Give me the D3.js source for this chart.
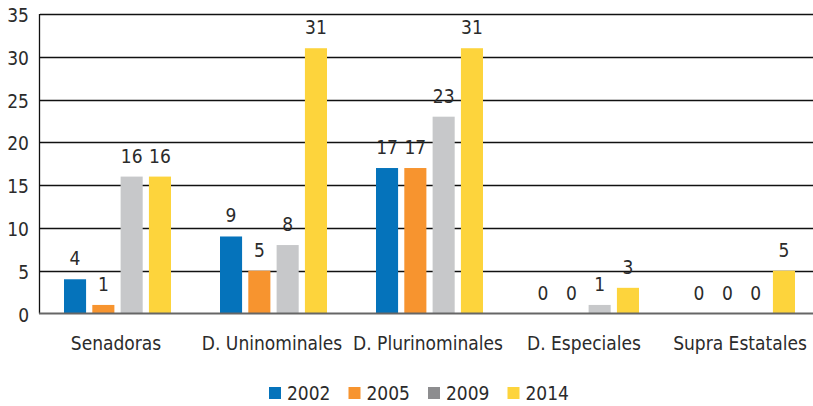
<!DOCTYPE html>
<html lang="es">
  <head>
    <meta charset="utf-8">
    <title>Candidatas por tipo</title>
    <script src="https://cdn.jsdelivr.net/npm/d3@7"></script>
    <style>
      body { margin: 0; background: #fff; }
      text { font-family: 'DejaVu Sans Condensed', 'DejaVu Sans', sans-serif; font-stretch: condensed; fill: #2b2b2b; }
    </style>
  </head>
  <body>
    <div id='chart'></div>

    <script type='text/javascript'>
      // data
      let categories = ['Senadoras', 'D. Uninominales', 'D. Plurinominales', 'D. Especiales', 'Supra Estatales'];
      let years = ['2002', '2005', '2009', '2014'];
      let v2002 = [4, 9, 17, 0, 0];
      let v2005 = [1, 5, 17, 0, 0];
      let v2009 = [16, 8, 23, 1, 0];
      let v2014 = [16, 31, 31, 3, 5];
      let yTicks = [0, 5, 10, 15, 20, 25, 30, 35];

      let series = [v2002, v2005, v2009, v2014];
      let barColors = ['#0573bb', '#f7942f', '#c7c8ca', '#fdd43c'];
      let keyColors = ['#0573bb', '#f7942f', '#8d8d8f', '#fdd43c'];

      let width = 813, height = 406;
      let margin = {top: 14, left: 40, bottom: 313.5};
      let fs = 19;

      let svg = d3.select('#chart').append('svg')
        .attr('width', width)
        .attr('height', height)

      let x = d3.scaleBand()
        .domain(categories)
        .range([margin.left, margin.left + 156 * 5])

      let xInner = d3.scaleBand()
        .domain(years)
        .range([24, 131])
        .paddingInner(0.22)

      let y = d3.scaleLinear()
        .domain([0, 35])
        .range([margin.bottom, margin.top])

      // gridlines
      svg.append('g')
        .selectAll('line')
        .data(yTicks.filter((d) => d > 0))
        .enter()
        .append('line')
        .attr('x1', margin.left)
        .attr('x2', width)
        .attr('y1', (d) => Math.round(y(d)) + 0.5)
        .attr('y2', (d) => Math.round(y(d)) + 0.5)
        .attr('stroke', '#111')
        .attr('stroke-width', 1.3)

      // y tick labels
      svg.append('g')
        .selectAll('text')
        .data(yTicks)
        .enter()
        .append('text')
        .attr('x', 29)
        .attr('y', (d) => y(d) + 8)
        .attr('text-anchor', 'end')
        .attr('font-size', fs)
        .text((d) => d)

      // bars
      let rows = [];
      categories.forEach((c, i) => {
        series.forEach((s, j) => {
          rows.push({cat: c, year: years[j], value: s[i], color: barColors[j]});
        });
      });

      let groups = svg.append('g')
        .selectAll('g')
        .data(rows)
        .enter()
        .append('g')
        .attr('transform', (d) => 'translate(' + (x(d.cat) + xInner(d.year)) + ',0)')

      groups.append('rect')
        .attr('x', 0)
        .attr('width', xInner.bandwidth())
        .attr('y', (d) => y(d.value))
        .attr('height', (d) => y(0) - y(d.value))
        .attr('fill', (d) => d.color)

      groups.append('text')
        .attr('x', xInner.bandwidth() / 2)
        .attr('y', (d) => y(d.value) - 14)
        .attr('text-anchor', 'middle')
        .attr('font-size', fs)
        .text((d) => d.value)

      // axes lines
      svg.append('line')
        .attr('x1', margin.left - 0.5).attr('x2', margin.left - 0.5)
        .attr('y1', margin.top).attr('y2', margin.bottom)
        .attr('stroke', '#111')
        .attr('stroke-width', 1.3)

      svg.append('line')
        .attr('x1', margin.left - 1).attr('x2', width)
        .attr('y1', margin.bottom).attr('y2', margin.bottom)
        .attr('stroke', '#666')
        .attr('stroke-width', 2)

      // category labels
      svg.append('g')
        .selectAll('text')
        .data(categories)
        .enter()
        .append('text')
        .attr('x', (d) => x(d) + 76)
        .attr('y', 350)
        .attr('text-anchor', 'middle')
        .attr('font-size', fs)
        .text((d) => d)

      // legend
      let key = svg.append('g')
        .selectAll('g')
        .data(years)
        .enter()
        .append('g')
        .attr('transform', (d, i) => 'translate(' + (269 + i * 79.5) + ',387)')

      key.append('rect')
        .attr('width', 12)
        .attr('height', 12)
        .attr('fill', (d, i) => keyColors[i])

      key.append('text')
        .attr('x', 18)
        .attr('y', 13)
        .attr('font-size', fs)
        .text((d) => d)
    </script>
  </body>
</html>
